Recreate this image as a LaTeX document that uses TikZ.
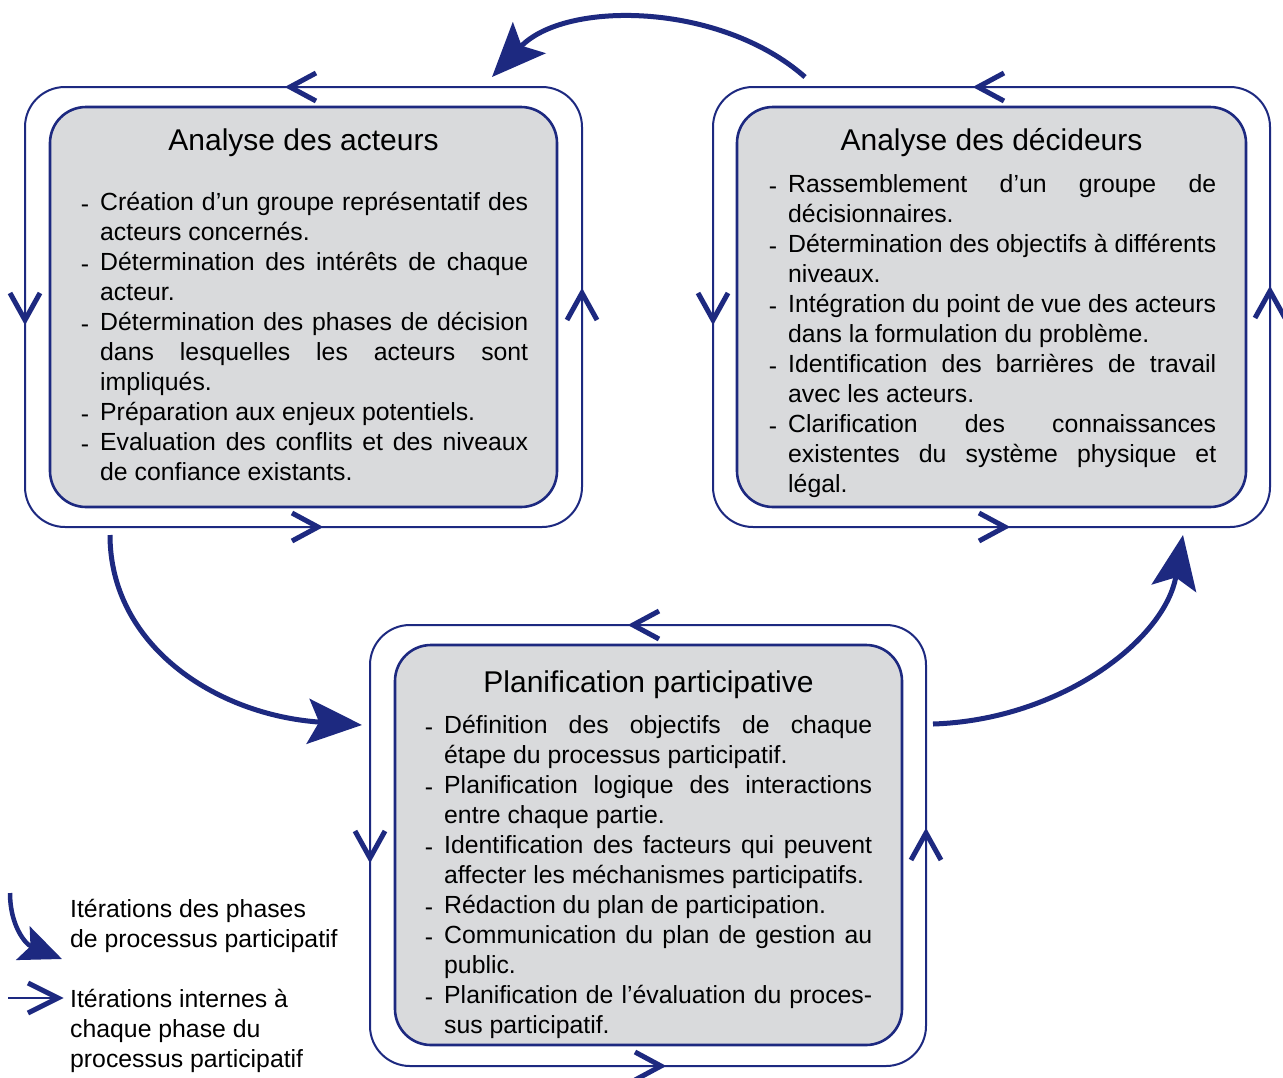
\documentclass[tikz,border=0pt]{standalone}
\usepackage{fontspec}
\setmainfont{Liberation Sans}
\usetikzlibrary{arrows.meta}
\definecolor{dblue}{RGB}{29,41,128}
\definecolor{boxgray}{RGB}{217,218,220}
\newcommand\dashmark{\llap{\raisebox{-2.5pt}{-}\hspace{11pt}}}
\newcommand\jln[1]{\hbox to 428pt{#1}}
\newcommand\lln[1]{\hbox{#1}}
\newcommand\djln[1]{\hbox to 428pt{\dashmark#1}}
\newcommand\dlln[1]{\hbox{\dashmark#1}}
\newcommand\textblock[1]{\vtop{\hsize=428pt #1}}
\begin{document}
\begin{tikzpicture}[x=1pt,y=-1pt,
  outerbox/.style={draw=dblue,line width=2pt,rounded corners=40pt,minimum width=557pt,minimum height=440pt,inner sep=0pt},
  innerbox/.style={draw=dblue,line width=2.6pt,fill=boxgray,rounded corners=36pt,minimum width=507pt,minimum height=400pt,inner sep=0pt},
  titletext/.style={font=\fontsize{30}{36}\selectfont,anchor=base,inner sep=0pt},
  bodytext/.style={font=\fontsize{24.8}{30}\selectfont,anchor=base west,inner sep=0pt},
  chev/.style={draw=dblue,line width=5pt},
  bigarrow/.style={draw=dblue,line width=5pt,-{Stealth[length=54pt,width=45pt,inset=11pt]}},
]
\useasboundingbox[fill=white] (0,0) rectangle (1283,1077);

% outer loops
\node[outerbox] (Aout) at (303.5,307) {};
\node[outerbox] (Bout) at (991.5,307) {};
\node[outerbox,minimum width=556pt,minimum height=441pt] (Cout) at (648,845.5) {};

% inner boxes
\node[innerbox] (Ain) at (303.5,307) {};
\node[innerbox,minimum width=509pt] (Bin) at (991.5,307) {};
\node[innerbox] (Cin) at (648.5,845) {};

% titles
\node[titletext] (Atitle) at (303.5,150) {Analyse des acteurs};
\node[titletext] (Btitle) at (991.5,150) {Analyse des décideurs};
\node[titletext] (Ctitle) at (648.5,692) {Planification participative};

% body texts
\node[bodytext] (Abody) at (100,210) {\textblock{%
\djln{Création d’un groupe représentatif des}
\lln{acteurs concernés.}
\djln{Détermination des intérêts de chaque}
\lln{acteur.}
\djln{Détermination des phases de décision}
\jln{dans lesquelles les acteurs sont}
\lln{impliqués.}
\dlln{Préparation aux enjeux potentiels.}
\djln{Evaluation des conflits et des niveaux}
\lln{de confiance existants.}}};

\node[bodytext] (Bbody) at (788,192) {\textblock{%
\djln{Rassemblement d’un groupe de}
\lln{décisionnaires.}
\djln{Détermination des objectifs à différents}
\lln{niveaux.}
\djln{Intégration du point de vue des acteurs}
\lln{dans la formulation du problème.}
\djln{Identification des barrières de travail}
\lln{avec les acteurs.}
\djln{Clarification des connaissances}
\jln{existentes du système physique et}
\lln{légal.}}};

\node[bodytext] (Cbody) at (444,733) {\textblock{%
\djln{Définition des objectifs de chaque}
\lln{étape du processus participatif.}
\djln{Planification logique des interactions}
\lln{entre chaque partie.}
\djln{Identification des facteurs qui peuvent}
\lln{affecter les méchanismes participatifs.}
\dlln{Rédaction du plan de participation.}
\djln{Communication du plan de gestion au}
\lln{public.}
\djln{Planification de l’évaluation du proces-}
\lln{sus participatif.}}};

% chevrons on outer loops (internal iterations)
\draw[chev] (316,73) -- (290,87) -- (316,101);
\draw[chev] (10,293) -- (25,320) -- (40,293);
\draw[chev] (567,320) -- (582,293) -- (597,320);
\draw[chev] (292,513) -- (318,527) -- (292,541);

\draw[chev] (1004,73) -- (978,87) -- (1004,101);
\draw[chev] (698,293) -- (713,320) -- (728,293);
\draw[chev] (1255,318) -- (1270,291) -- (1285,318);
\draw[chev] (979,513) -- (1005,527) -- (979,541);

\draw[chev] (659,611) -- (633,625) -- (659,639);
\draw[chev] (355,831) -- (370,858) -- (385,831);
\draw[chev] (911,860) -- (926,833) -- (941,860);
\draw[chev] (635,1052) -- (661,1066) -- (635,1080);

% phase iterations
\coordinate (s1) at (805,77);
\coordinate (e1) at (492,77);
\coordinate (s2) at (110,535);
\coordinate (e2) at (362,725);
\coordinate (s3) at (933,724);
\coordinate (e3) at (1183,535);
\draw[bigarrow] (s1) .. controls (720,2) and (565,0) .. (e1);
\draw[bigarrow] (s2) .. controls (110,645) and (215,715) .. (e2);
\draw[bigarrow] (s3) .. controls (1060,720) and (1165,640) .. (e3);

% legend
\coordinate (l1s) at (10,893);
\coordinate (l1e) at (62,959);
\draw[draw=dblue,line width=4.5pt,-{Stealth[length=42pt,width=36pt,inset=8pt]}] (l1s) .. controls (10,925) and (25,944) .. (l1e);
\node[bodytext] (leg1) at (70,917) {\vtop{\lln{Itérations des phases}\lln{de processus participatif}}};
\coordinate (l2s) at (8,998);
\coordinate (l2e) at (58,998);
\draw[dblue,line width=2pt] (l2s) -- (l2e);
\draw[chev] (28,983) -- (l2e) -- (28,1013);
\node[bodytext] (leg2) at (70,1007) {\vtop{\lln{Itérations internes à}\lln{chaque phase du}\lln{processus participatif}}};
\end{tikzpicture}
\end{document}
